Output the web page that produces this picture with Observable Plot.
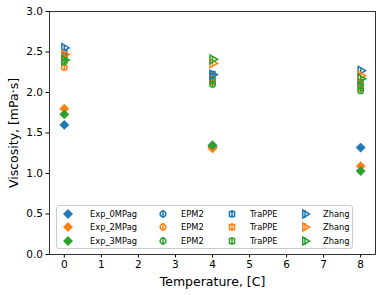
<!DOCTYPE html>
<html><head><meta charset="utf-8">
<script src="https://cdn.jsdelivr.net/npm/d3@7"></script>
<script src="https://cdn.jsdelivr.net/npm/@observablehq/plot@0.6"></script>
<style>
body{margin:0;background:#fff;font-family:"DejaVu Sans",sans-serif;}
#wrap{position:relative;width:382px;height:295px;}
#legend{position:absolute;left:56px;top:205px;width:297px;height:44px;border:1px solid #ccc;border-radius:3px;background:rgba(255,255,255,0.8);box-sizing:border-box;font-size:8.3px;}
.item{position:absolute;display:flex;align-items:center;height:12px;}
.item svg{margin-right:6px;}
</style></head>
<body><div id="wrap"></div>
<script>
const temps = [0, 4, 8];
const xTicks = [0,1,2,3,4,5,6,7,8];
const yTicks = [0,0.5,1,1.5,2,2.5,3];
const exp0 = [1.60, 1.33, 1.32];
const exp2 = [1.80, 1.31, 1.09];
const exp3 = [1.73, 1.35, 1.03];
const epm2_0 = [2.45, 2.20, 2.10];
const epm2_2 = [2.31, 2.13, 2.05];
const epm2_3 = [2.38, 2.10, 2.02];
const trappe_0 = [2.50, 2.23, 2.13];
const trappe_2 = [2.42, 2.18, 2.12];
const trappe_3 = [2.43, 2.15, 2.08];
const zhang_0 = [2.55, 2.22, 2.27];
const zhang_2 = [2.47, 2.36, 2.21];
const zhang_3 = [2.40, 2.41, 2.17];
const simErr = 0.03;

const C = ["#1f77b4", "#ff7f0e", "#2ca02c"];
const expSeries = [["Exp_0MPag", exp0], ["Exp_2MPag", exp2], ["Exp_3MPag", exp3]];
const simGroups = [
  ["EPM2", [epm2_0, epm2_2, epm2_3], "circle", 0],
  ["TraPPE", [trappe_0, trappe_2, trappe_3], "square", 0],
  ["Zhang", [zhang_0, zhang_2, zhang_3], "triangle", 90]
];
const rows = (vals, i) => temps.map((t, j) => ({t, v: vals[j], c: C[i]}));

const marks = [];
expSeries.forEach(([name, vals], i) => {
  marks.push(Plot.dot(rows(vals, i), {x: "t", y: "v", symbol: "diamond2", r: 4.2, fill: C[i], stroke: C[i], strokeWidth: 0.5}));
});
simGroups.forEach(([name, series, sym, rot]) => {
  series.forEach((vals, i) => {
    const d = rows(vals, i);
    marks.push(Plot.ruleX(d, {x: "t", y1: r => r.v - simErr, y2: r => r.v + simErr, stroke: C[i], strokeWidth: 1.5}));
    marks.push(Plot.dot(d, {x: "t", y: "v", symbol: sym, rotate: rot, r: sym === "triangle" ? 3.2 : 2.7, fill: "none", stroke: C[i], strokeWidth: 1.5}));
  });
});

const plot = Plot.plot({
  width: 382, height: 295,
  marginLeft: 49, marginRight: 7, marginTop: 11, marginBottom: 41,
  style: {fontFamily: "DejaVu Sans, sans-serif", fontSize: "10px", background: "white", color: "black"},
  x: {domain: [-0.4, 8.4]},
  y: {domain: [0, 3]},
  marks: [
    ...marks,
    Plot.frame({stroke: "black", strokeWidth: 0.8}),
    Plot.axisX({ticks: xTicks, tickSize: 3.5, tickPadding: 3, fontSize: 10.5, label: "Temperature, [C]", labelAnchor: "center", labelOffset: 31, labelArrow: "none"}),
    Plot.axisY({ticks: yTicks, tickSize: 3.5, tickPadding: 3, fontSize: 10.5, tickFormat: d3.format(".1f"), label: "Viscosity, [mPa·s]", labelAnchor: "center", labelOffset: 40, labelArrow: "none"})
  ]
});
plot.querySelectorAll('g[aria-label="x-axis label"] text, g[aria-label="y-axis label"] text').forEach(t => t.style.fontSize = "12.5px");
const wrap = document.getElementById("wrap");
wrap.appendChild(plot);

// legend
const leg = document.createElement("div");
leg.id = "legend";
wrap.appendChild(leg);
const colX = [5, 100, 169, 242];
const rowY = [2, 15, 29];
const symPath = (sym) => d3.symbol(sym === "circle" ? d3.symbolCircle : sym === "square" ? d3.symbolSquare : sym === "triangle" ? d3.symbolTriangle : d3.symbolDiamond2, sym === "diamond2" ? 55 : 26)();
function addItem(col, row, label, sym, color, rot, isExp) {
  const it = document.createElement("div");
  it.className = "item";
  it.style.left = colX[col] + "px";
  it.style.top = rowY[row] + "px";
  const s = d3.create("svg").attr("width", 12).attr("height", 12);
  if (!isExp) s.append("line").attr("x1", 6).attr("x2", 6).attr("y1", 2).attr("y2", 10).attr("stroke", color).attr("stroke-width", 1.5);
  s.append("path").attr("d", symPath(sym)).attr("transform", `translate(6,6) rotate(${rot})`)
    .attr("fill", isExp ? color : "none").attr("stroke", color).attr("stroke-width", isExp ? 0.5 : 1.5);
  it.appendChild(s.node());
  const sp = document.createElement("span");
  sp.textContent = label;
  sp.style.marginLeft = isExp ? "10px" : "6px";
  it.appendChild(sp);
  leg.appendChild(it);
}
expSeries.forEach(([name], i) => addItem(0, i, name, "diamond2", C[i], 0, true));
simGroups.forEach(([name, series, sym, rot], g) => {
  series.forEach((_, i) => addItem(g + 1, i, name, sym, C[i], rot, false));
});
</script></body></html>
